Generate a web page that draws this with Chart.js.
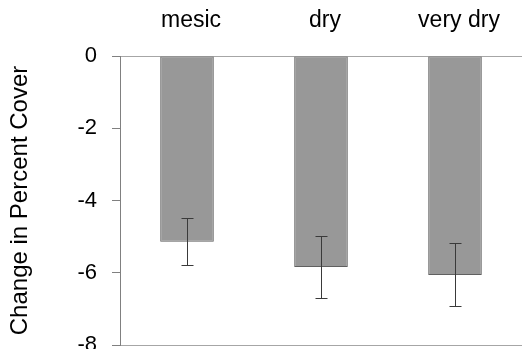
<!DOCTYPE html>
<html>
<head>
<meta charset="utf-8">
<script src="https://cdn.jsdelivr.net/npm/chart.js@4/dist/chart.umd.min.js"></script>
<style>
  html, body { margin: 0; padding: 0; background: #fff; }
  #wrap { width: 524px; height: 349px; }
</style>
</head>
<body>
<div id="wrap"><canvas id="c" width="524" height="349"></canvas></div>
<script>
const categories = ["mesic", "dry", "very dry"];
const changeValues = [-5.14, -5.84, -6.06];
const errorValues = [0.65, 0.86, 0.87];
const yTicks = [0, -2, -4, -6, -8];
const yTitle = "Change in Percent Cover";

const errorBarPlugin = {
  id: 'errorBars',
  afterDatasetsDraw(chart) {
    const ctx = chart.ctx;
    const meta = chart.getDatasetMeta(0);
    const y = chart.scales.y;
    ctx.save();
    ctx.strokeStyle = '#3a3a3a';
    ctx.lineWidth = 1;
    meta.data.forEach((bar, i) => {
      const v = changeValues[i], e = errorValues[i];
      const x = Math.round(bar.x) + 0.5;
      const yTop = Math.round(y.getPixelForValue(v + e)) + 0.5;
      const yBot = Math.round(y.getPixelForValue(v - e)) + 0.5;
      ctx.beginPath();
      ctx.moveTo(x, yTop); ctx.lineTo(x, yBot);
      ctx.moveTo(x - 6, yTop); ctx.lineTo(x + 6, yTop);
      ctx.moveTo(x - 6, yBot); ctx.lineTo(x + 6, yBot);
      ctx.stroke();
    });
    ctx.restore();
  }
};

const font = "'Liberation Sans', Arial, sans-serif";

new Chart(document.getElementById('c'), {
  type: 'bar',
  data: {
    labels: categories,
    datasets: [{
      data: changeValues,
      backgroundColor: '#989898',
      borderColor: '#606060',
      borderWidth: 1,
      borderSkipped: false,
      barPercentage: 0.4,
      categoryPercentage: 1.0
    }]
  },
  options: {
    responsive: false,
    animation: false,
    devicePixelRatio: 1,
    layout: { padding: { top: 0, right: 2, bottom: 4, left: 0 } },
    plugins: { legend: { display: false }, tooltip: { enabled: false } },
    scales: {
      x: {
        position: 'top',
        afterFit(scale) { scale.height = 56; scale.paddingLeft = 0; scale.paddingRight = 0; },
        grid: { display: false },
        border: { display: false },
        ticks: { color: '#000', font: { family: font, size: 23 }, padding: 14, labelOffset: 4 }
      },
      y: {
        min: -8, max: 0,
        afterBuildTicks(scale) { scale.ticks = yTicks.map(v => ({ value: v })); },
        afterFit(scale) { scale.width = 120; scale.paddingTop = 0; scale.paddingBottom = 0; },
        grid: {
          color: ctx => (ctx.tick && (ctx.tick.value === 0 || ctx.tick.value === -8)) ? '#a6a6a6' : 'rgba(0,0,0,0)',
          tickColor: '#808080',
          tickLength: 8,
          lineWidth: 1
        },
        border: { display: true, color: '#808080', width: 1 },
        ticks: { color: '#000', font: { family: font, size: 22 }, padding: 15 },
        title: { display: true, text: yTitle, color: '#000', font: { family: font, size: 24 }, padding: { top: 6, bottom: 0 } }
      }
    }
  },
  plugins: [errorBarPlugin]
});
</script>
</body>
</html>
